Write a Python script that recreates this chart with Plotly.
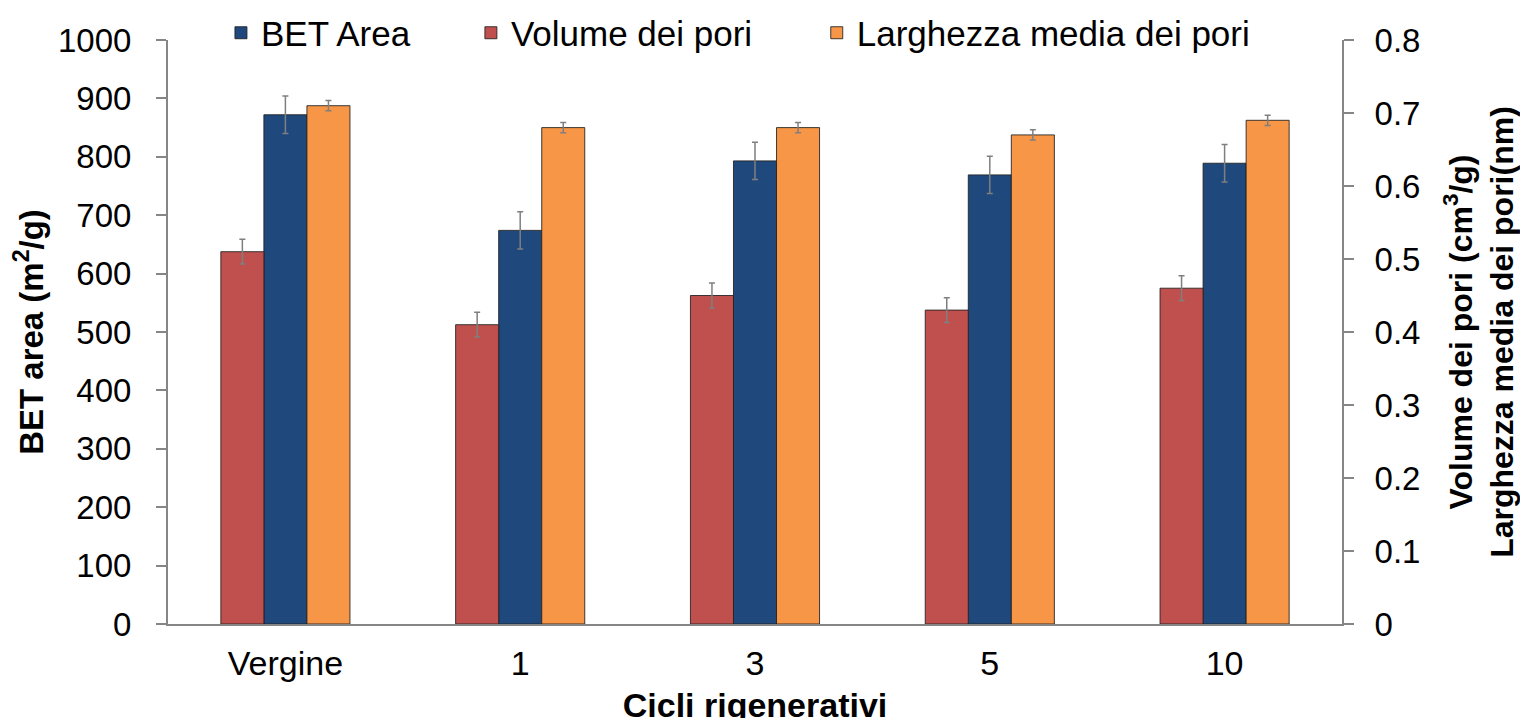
import plotly.graph_objects as go

categories = ["Vergine", "1", "3", "5", "10"]
bet_area = [872, 674, 793, 769, 789]
bet_err = [32, 32, 32, 32, 32]
volume_pori = [0.51, 0.41, 0.45, 0.43, 0.46]
volume_err = [0.017, 0.017, 0.017, 0.017, 0.017]
larghezza = [0.71, 0.68, 0.68, 0.67, 0.69]
larghezza_err = [0.007, 0.007, 0.007, 0.007, 0.007]
left_ticks = [0, 100, 200, 300, 400, 500, 600, 700, 800, 900, 1000]
right_ticks = [0, 0.1, 0.2, 0.3, 0.4, 0.5, 0.6, 0.7, 0.8]

FONT = "Liberation Sans, Arial, sans-serif"
AX = "#868686"
EDGE = "rgba(30,30,30,0.85)"
BW = 0.1833

fig = go.Figure()
fig.add_trace(go.Bar(
    x=categories, y=bet_area, name="BET Area", yaxis="y", legend="legend",
    marker=dict(color="#1F497D", line=dict(color=EDGE, width=1)),
    width=BW, offset=-BW / 2,
    error_y=dict(type="data", array=bet_err, color="#7F7F7F", thickness=1.5, width=3),
))
fig.add_trace(go.Bar(
    x=categories, y=volume_pori, name="Volume dei pori", yaxis="y2", legend="legend2",
    marker=dict(color="#C0504D", line=dict(color=EDGE, width=1)),
    width=BW, offset=-1.5 * BW,
    error_y=dict(type="data", array=volume_err, color="#7F7F7F", thickness=1.5, width=3),
))
fig.add_trace(go.Bar(
    x=categories, y=larghezza, name="Larghezza media dei pori", yaxis="y2", legend="legend3",
    marker=dict(color="#F79646", line=dict(color=EDGE, width=1)),
    width=BW, offset=BW / 2,
    error_y=dict(type="data", array=larghezza_err, color="#7F7F7F", thickness=1.5, width=3),
))

def leg(x):
    return dict(orientation="h", x=x, xanchor="left", y=1.012, yanchor="middle",
                font=dict(size=35), bgcolor="rgba(0,0,0,0)", itemwidth=30)

fig.update_layout(
    width=1528, height=718,
    margin=dict(l=160, r=194, t=32, b=102, autoexpand=False),
    paper_bgcolor="white", plot_bgcolor="white",
    font=dict(family=FONT, size=33, color="black"),
    barmode="overlay",
    showlegend=True,
    legend=leg(0.0451),
    legend2=leg(0.258),
    legend3=leg(0.5526),
    xaxis=dict(
        type="category", showline=True, linecolor=AX, linewidth=2,
        ticks="", ticklabelstandoff=8, tickfont=dict(size=34),
        showgrid=False, zeroline=False,
        title=dict(text="<b>Cicli rigenerativi</b>", font=dict(size=34), standoff=12),
    ),
    yaxis=dict(
        range=[0, 1000], tickvals=left_ticks, showline=True, linecolor=AX, linewidth=2,
        ticks="outside", ticklen=10, tickcolor=AX, tickwidth=2,
        showgrid=False, zeroline=False, tickfont=dict(size=33),
        ticklabelstandoff=18,
        title=dict(text="<b>BET area (m<sup>2</sup>/g)</b>", font=dict(size=33), standoff=8),
    ),
    yaxis2=dict(
        range=[0, 0.8], tickvals=right_ticks, overlaying="y", side="right",
        showline=True, linecolor=AX, linewidth=2,
        ticks="outside", ticklen=10, tickcolor=AX, tickwidth=2,
        showgrid=False, zeroline=False, tickfont=dict(size=33),
        ticklabelstandoff=14,
        title=dict(text="<b>Volume dei pori (cm<sup>3</sup>/g)<br>Larghezza media dei pori(nm)</b>",
                   font=dict(size=32), standoff=30),
    ),
)

fig.write_html("out.html")
